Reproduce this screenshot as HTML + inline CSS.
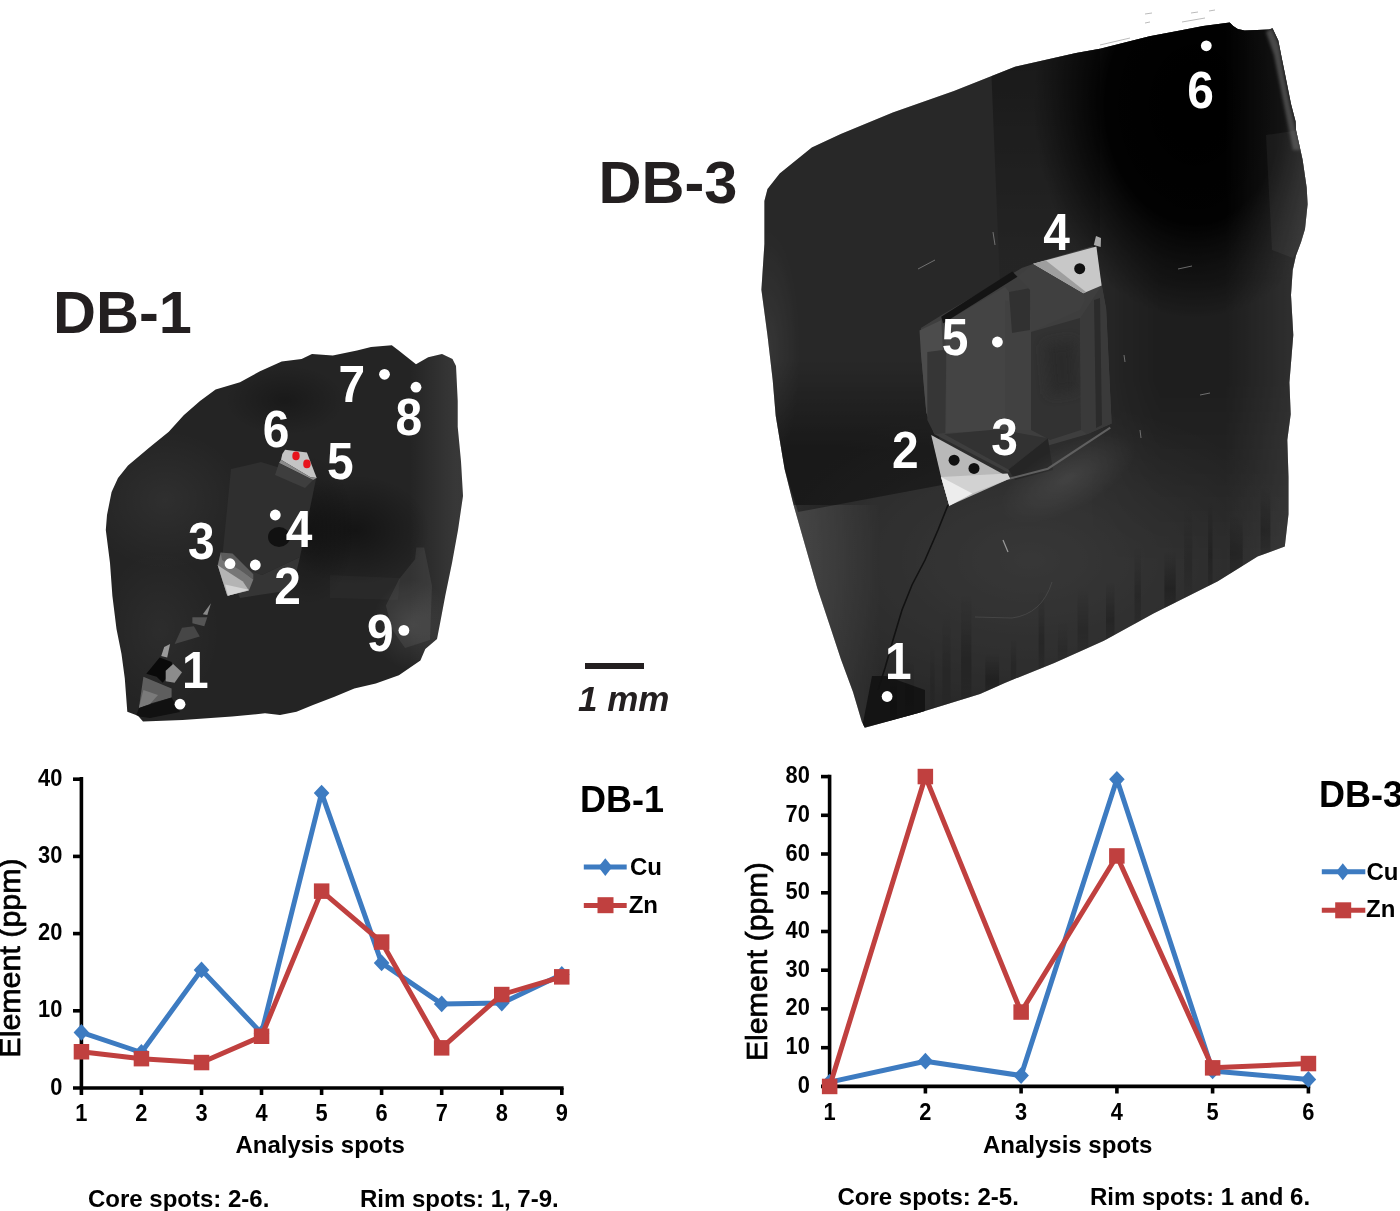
<!DOCTYPE html>
<html><head><meta charset="utf-8"><title>DB-1 and DB-3 crystals</title>
<style>html,body{margin:0;padding:0;background:#fff;width:1400px;height:1211px;overflow:hidden}svg{display:block}</style>
</head><body>
<svg width="1400" height="1211" viewBox="0 0 1400 1211">
<defs>
<filter id="b6" x="-50%" y="-50%" width="200%" height="200%"><feGaussianBlur stdDeviation="6"/></filter>
<filter id="b12" x="-50%" y="-50%" width="200%" height="200%"><feGaussianBlur stdDeviation="12"/></filter>
<filter id="b25" x="-50%" y="-50%" width="200%" height="200%"><feGaussianBlur stdDeviation="25"/></filter>
<filter id="b2" x="-50%" y="-50%" width="200%" height="200%"><feGaussianBlur stdDeviation="1.5"/></filter>
<clipPath id="c1"><polygon points="127.3,711.7 124.8,678.6 121.5,654.0 116.5,629.0 112.4,596.0 110.0,563.0 105.8,530.0 107.0,515.0 109.0,505.0 111.6,492.0 118.0,478.0 128.0,465.5 150.0,447.0 168.8,431.8 183.7,415.3 200.0,401.0 215.6,389.5 240.0,382.3 260.0,371.2 281.7,361.5 301.6,359.0 312.0,353.9 332.8,355.6 357.0,350.4 371.0,347.0 391.8,345.2 398.7,350.4 416.0,364.3 428.2,357.3 442.0,353.9 452.5,359.0 456.0,366.0 457.7,400.7 457.7,426.7 461.0,461.4 463.0,496.0 458.0,530.0 452.0,563.0 445.2,596.0 440.2,622.5 437.0,639.0 425.3,648.9 420.4,660.5 398.9,675.3 375.8,683.6 354.3,688.5 334.5,696.8 313.0,705.0 296.5,711.7 280.0,715.0 265.0,713.3 232.0,716.6 182.6,720.0 143.0,721.6 138.0,715.8"/></clipPath>
<clipPath id="c3"><polygon points="767.5,188.9 779.7,173.6 811.8,147.6 840.8,133.9 892.8,112.5 953.9,91.1 1015.0,66.7 1076.0,53.0 1100.0,48.7 1149.5,36.3 1180.0,30.6 1203.1,26.0 1229.7,22.5 1233.2,26.0 1237.8,28.9 1244.7,30.6 1269.0,29.5 1272.5,28.3 1278.3,40.5 1281.7,57.8 1285.2,75.1 1288.7,92.5 1291.0,104.0 1295.6,121.4 1296.0,130.0 1302.6,159.7 1306.7,187.8 1307.6,204.3 1305.0,229.0 1301.0,242.2 1296.0,255.4 1292.7,270.3 1291.0,295.0 1293.3,335.0 1289.4,382.6 1290.7,414.3 1287.3,440.0 1288.5,477.2 1288.5,514.3 1284.8,546.6 1257.6,556.5 1217.9,581.3 1153.5,613.5 1103.9,640.7 1054.3,663.0 1004.8,682.9 980.0,694.0 918.3,712.9 864.8,727.8 861.8,721.8 853.0,692.1 841.0,659.4 829.2,623.7 817.3,588.1 805.4,546.5 793.5,504.8 784.6,469.2 775.7,415.7 772.7,380.0 767.5,335.5 761.4,289.7 764.4,243.9 764.4,201.0"/></clipPath>
</defs>
<rect width="1400" height="1211" fill="#fff"/>
<polygon points="127.3,711.7 124.8,678.6 121.5,654.0 116.5,629.0 112.4,596.0 110.0,563.0 105.8,530.0 107.0,515.0 109.0,505.0 111.6,492.0 118.0,478.0 128.0,465.5 150.0,447.0 168.8,431.8 183.7,415.3 200.0,401.0 215.6,389.5 240.0,382.3 260.0,371.2 281.7,361.5 301.6,359.0 312.0,353.9 332.8,355.6 357.0,350.4 371.0,347.0 391.8,345.2 398.7,350.4 416.0,364.3 428.2,357.3 442.0,353.9 452.5,359.0 456.0,366.0 457.7,400.7 457.7,426.7 461.0,461.4 463.0,496.0 458.0,530.0 452.0,563.0 445.2,596.0 440.2,622.5 437.0,639.0 425.3,648.9 420.4,660.5 398.9,675.3 375.8,683.6 354.3,688.5 334.5,696.8 313.0,705.0 296.5,711.7 280.0,715.0 265.0,713.3 232.0,716.6 182.6,720.0 143.0,721.6 138.0,715.8" fill="#242424"/>
<g clip-path="url(#c1)">
<defs>
<radialGradient id="rw" cx="0.5" cy="0.5" r="0.5"><stop offset="0" stop-color="#fff" stop-opacity="1"/><stop offset="1" stop-color="#fff" stop-opacity="0"/></radialGradient>
<radialGradient id="rk" cx="0.5" cy="0.5" r="0.5"><stop offset="0" stop-color="#000" stop-opacity="1"/><stop offset="1" stop-color="#000" stop-opacity="0"/></radialGradient>
<linearGradient id="d1rb" gradientUnits="userSpaceOnUse" x1="410" y1="0" x2="455" y2="0"><stop offset="0" stop-color="#fff" stop-opacity="0"/><stop offset="1" stop-color="#fff" stop-opacity="0.09"/></linearGradient>
</defs>
<polygon points="410,350 470,350 470,660 410,660" fill="url(#d1rb)"/>
<ellipse cx="412" cy="625" rx="40" ry="45" fill="url(#rw)" opacity="0.10"/>
<polygon points="416.3,547.4 424.2,547.4 432,585.7 430,640 405,648 392.5,630 385.8,605.4 399,579.2 415,559.3" fill="#fff" opacity="0.07"/>
<polygon points="330,575 400,578 398,600 330,598" fill="#fff" opacity="0.025"/>
<ellipse cx="355" cy="530" rx="75" ry="55" fill="url(#rk)" opacity="0.45"/>
<ellipse cx="165" cy="500" rx="80" ry="70" fill="url(#rw)" opacity="0.05"/>
<ellipse cx="160" cy="630" rx="60" ry="80" fill="url(#rw)" opacity="0.04"/>
<ellipse cx="310" cy="530" rx="45" ry="75" fill="url(#rk)" opacity="0.35"/>
<ellipse cx="285" cy="400" rx="60" ry="35" fill="url(#rk)" opacity="0.3"/>
<polygon points="231,469 261,462 316,479 300,557 262,575 222,560" fill="#2f2f2f"/>
<polygon points="222,560 262,575 300,557 292,590 240,598" fill="#353535"/>
<ellipse cx="279" cy="537" rx="11" ry="10" fill="#111"/>
<polygon points="281,459.7 282.3,454 285.1,449.8 306.9,452.6 316.7,477.9 310.4,477.2" fill="#c4c4c4"/>
<polygon points="281,459.7 310.4,477.2 316.7,477.9 313,480 279,463" fill="#8a8a8a"/>
<polygon points="279,463 313,480 305,488 275,475" fill="#3e3e3e"/>
<polygon points="217.7,565.3 220.7,552.6 253.3,579.4 248.9,590.5 227.3,595.7" fill="#767676"/>
<polygon points="220.7,552.6 232.5,553.4 253.3,574.2 253.3,579.4 240,570 222,560" fill="#5c5c5c"/>
<polygon points="217.7,565.3 242.9,581.6 248.9,590.5 227.3,595.7" fill="#b4b4b4"/>
<polygon points="225.1,584.6 248.9,589.8 228.1,595.7" fill="#d4d4d4"/>
<polygon points="211,603.2 202.8,614.3 207.3,615" fill="#8a8a8a"/>
<polygon points="192.4,617.3 207.3,617.3 204.3,626.2 192.4,623.2" fill="#555"/>
<polygon points="182,627.7 193.9,626.2 199.8,636.6 174.6,644" fill="#464646"/>
<polygon points="164.2,647 170.1,644 167.2,657.4 161.2,655.9" fill="#9a9a9a"/>
<polygon points="146.3,673.7 159.7,657.4 171.6,661.9 173.1,669.3 162.7,682.7 156.7,676.7" fill="#0a0a0a"/>
<polygon points="165.7,670.8 173.1,664.1 182,672.3 174.6,682.7 165.7,681.2" fill="#8c8c8c"/>
<polygon points="138.9,707.9 143.4,676.7 171.6,688.6 171.6,697.5 144.9,705" fill="#5e5e5e"/>
<polygon points="138.9,707.9 143.4,690 158,695 150,704" fill="#7a7a7a"/>
<polygon points="136,716 139,708 171.6,697.5 180,712 150,718" fill="#111"/>
</g>
<ellipse cx="296" cy="455.9" rx="3.7" ry="4.4" fill="#e8141c"/>
<ellipse cx="306.9" cy="463.9" rx="3.7" ry="4.4" fill="#e8141c"/>
<circle cx="180" cy="704.2" r="5.4" fill="#fff"/>
<circle cx="230" cy="563.7" r="5.4" fill="#fff"/>
<circle cx="255.3" cy="565" r="5.4" fill="#fff"/>
<circle cx="275.3" cy="515" r="5.4" fill="#fff"/>
<circle cx="384.5" cy="374.3" r="5.4" fill="#fff"/>
<circle cx="416" cy="387.2" r="5.4" fill="#fff"/>
<circle cx="403.9" cy="630.4" r="5.4" fill="#fff"/>
<g font-family="Liberation Sans, Arial, sans-serif" font-weight="bold">
<text transform="translate(195.3 687.7) scale(0.93 1)" font-size="51.5" text-anchor="middle" fill="#fff">1</text>
<text transform="translate(287.6 603.5) scale(0.93 1)" font-size="51.5" text-anchor="middle" fill="#fff">2</text>
<text transform="translate(201.2 558.6) scale(0.93 1)" font-size="51.5" text-anchor="middle" fill="#fff">3</text>
<text transform="translate(299.1 547.4) scale(0.93 1)" font-size="51.5" text-anchor="middle" fill="#fff">4</text>
<text transform="translate(340.2 478.7) scale(0.93 1)" font-size="51.5" text-anchor="middle" fill="#fff">5</text>
<text transform="translate(276.0 446.6) scale(0.93 1)" font-size="51.5" text-anchor="middle" fill="#fff">6</text>
<text transform="translate(351.9 401.6) scale(0.93 1)" font-size="51.5" text-anchor="middle" fill="#fff">7</text>
<text transform="translate(408.7 434.5) scale(0.93 1)" font-size="51.5" text-anchor="middle" fill="#fff">8</text>
<text transform="translate(380.4 650.6) scale(0.93 1)" font-size="51.5" text-anchor="middle" fill="#fff">9</text>
</g>
<polygon points="767.5,188.9 779.7,173.6 811.8,147.6 840.8,133.9 892.8,112.5 953.9,91.1 1015.0,66.7 1076.0,53.0 1100.0,48.7 1149.5,36.3 1180.0,30.6 1203.1,26.0 1229.7,22.5 1233.2,26.0 1237.8,28.9 1244.7,30.6 1269.0,29.5 1272.5,28.3 1278.3,40.5 1281.7,57.8 1285.2,75.1 1288.7,92.5 1291.0,104.0 1295.6,121.4 1296.0,130.0 1302.6,159.7 1306.7,187.8 1307.6,204.3 1305.0,229.0 1301.0,242.2 1296.0,255.4 1292.7,270.3 1291.0,295.0 1293.3,335.0 1289.4,382.6 1290.7,414.3 1287.3,440.0 1288.5,477.2 1288.5,514.3 1284.8,546.6 1257.6,556.5 1217.9,581.3 1153.5,613.5 1103.9,640.7 1054.3,663.0 1004.8,682.9 980.0,694.0 918.3,712.9 864.8,727.8 861.8,721.8 853.0,692.1 841.0,659.4 829.2,623.7 817.3,588.1 805.4,546.5 793.5,504.8 784.6,469.2 775.7,415.7 772.7,380.0 767.5,335.5 761.4,289.7 764.4,243.9 764.4,201.0" fill="#3a3a3a"/>
<g clip-path="url(#c3)">
<defs>
<radialGradient id="d3tr" gradientUnits="userSpaceOnUse" cx="1195" cy="105" r="190" gradientTransform="translate(1195 105) scale(0.85 1.12) translate(-1195 -105)">
<stop offset="0" stop-color="#000" stop-opacity="1"/><stop offset="0.55" stop-color="#000" stop-opacity="0.95"/><stop offset="1" stop-color="#000" stop-opacity="0"/></radialGradient>
<linearGradient id="d3rm" gradientUnits="userSpaceOnUse" x1="1090" y1="0" x2="1160" y2="0">
<stop offset="0" stop-color="#000" stop-opacity="0"/><stop offset="1" stop-color="#000" stop-opacity="0.25"/></linearGradient>
<linearGradient id="d3rmv" gradientUnits="userSpaceOnUse" x1="0" y1="200" x2="0" y2="600">
<stop offset="0" stop-color="#fff" stop-opacity="0"/><stop offset="0.2" stop-color="#fff" stop-opacity="1"/><stop offset="0.45" stop-color="#fff" stop-opacity="1"/><stop offset="0.9" stop-color="#fff" stop-opacity="0"/></linearGradient>
<mask id="m3rm"><rect x="1000" y="200" width="320" height="400" fill="url(#d3rmv)"/></mask>
<radialGradient id="d3low" gradientUnits="userSpaceOnUse" cx="1030" cy="560" r="230" gradientTransform="translate(1030 560) scale(1.2 0.7) translate(-1030 -560)">
<stop offset="0" stop-color="#fff" stop-opacity="0.11"/><stop offset="0.6" stop-color="#fff" stop-opacity="0.05"/><stop offset="1" stop-color="#fff" stop-opacity="0"/></radialGradient>
<linearGradient id="d3ll" gradientUnits="userSpaceOnUse" x1="790" y1="0" x2="880" y2="0">
<stop offset="0" stop-color="#fff" stop-opacity="0.22"/><stop offset="1" stop-color="#fff" stop-opacity="0"/></linearGradient>
<linearGradient id="d3tm" gradientUnits="userSpaceOnUse" x1="0" y1="60" x2="0" y2="260">
<stop offset="0" stop-color="#000" stop-opacity="0.35"/><stop offset="1" stop-color="#000" stop-opacity="0.1"/></linearGradient>
</defs>
<polygon points="990,40 1100,20 1100,246 1035,262 1017.5,276.8 1000,287" fill="url(#d3tm)"/>
<rect x="1090" y="200" width="230" height="400" fill="url(#d3rm)" mask="url(#m3rm)"/>
<rect x="1000" y="0" width="320" height="380" fill="url(#d3tr)"/>
<rect x="760" y="380" width="560" height="360" fill="url(#d3low)"/>
<polygon points="770,505 880,505 900,740 800,740" fill="url(#d3ll)"/>
<defs><linearGradient id="dbnd" gradientUnits="userSpaceOnUse" x1="0" y1="360" x2="0" y2="450"><stop offset="0" stop-color="#000" stop-opacity="0"/><stop offset="1" stop-color="#000" stop-opacity="0.38"/></linearGradient>
<linearGradient id="lft" gradientUnits="userSpaceOnUse" x1="762" y1="0" x2="800" y2="0"><stop offset="0" stop-color="#fff" stop-opacity="0.12"/><stop offset="1" stop-color="#fff" stop-opacity="0"/></linearGradient></defs>
<polygon points="760,360 935,360 942,485 798,512 785,470" fill="url(#dbnd)"/>
<ellipse cx="768" cy="350" rx="32" ry="120" fill="url(#rw)" opacity="0.10"/>
<polygon points="862,728 872,676 886,676 925,690 925,712" fill="#1e1e1e"/>
<defs><linearGradient id="d3re" gradientUnits="userSpaceOnUse" x1="1225" y1="0" x2="1300" y2="0"><stop offset="0" stop-color="#fff" stop-opacity="0"/><stop offset="1" stop-color="#fff" stop-opacity="0.13"/></linearGradient></defs>
<rect x="1220" y="20" width="100" height="560" fill="url(#d3re)"/>
<polygon points="1272,28 1279,45 1284,75 1290,105 1297,135 1301,150 1293,150 1287,120 1280,85 1274,55 1266,32" fill="#686868" filter="url(#b2)"/>
<polygon points="1266,135 1300,130 1309,200 1305,235 1293,258 1272,250" fill="#fff" opacity="0.07"/>
<defs><linearGradient id="stk" x1="0" y1="0" x2="0" y2="1"><stop offset="0" stop-color="#000" stop-opacity="0"/><stop offset="0.6" stop-color="#000" stop-opacity="0.5"/><stop offset="1" stop-color="#000" stop-opacity="0.2"/></linearGradient></defs>
<rect x="890.0" y="674.5" width="7.2" height="51.3" fill="url(#stk)" opacity="0.43"/>
<rect x="904.7" y="654.3" width="9.4" height="67.4" fill="url(#stk)" opacity="0.22"/>
<rect x="930.2" y="641.7" width="4.4" height="72.5" fill="url(#stk)" opacity="0.22"/>
<rect x="942.4" y="608.5" width="8.2" height="102.0" fill="url(#stk)" opacity="0.24"/>
<rect x="961.1" y="593.7" width="10.3" height="111.1" fill="url(#stk)" opacity="0.40"/>
<rect x="985.3" y="653.1" width="13.8" height="43.5" fill="url(#stk)" opacity="0.50"/>
<rect x="1010.9" y="636.6" width="5.4" height="48.8" fill="url(#stk)" opacity="0.31"/>
<rect x="1038.6" y="590.7" width="5.8" height="83.6" fill="url(#stk)" opacity="0.42"/>
<rect x="1057.9" y="621.7" width="9.5" height="44.7" fill="url(#stk)" opacity="0.22"/>
<rect x="1077.5" y="585.5" width="10.8" height="72.1" fill="url(#stk)" opacity="0.31"/>
<rect x="1106.0" y="582.1" width="8.5" height="62.5" fill="url(#stk)" opacity="0.48"/>
<rect x="1134.5" y="545.8" width="6.4" height="83.1" fill="url(#stk)" opacity="0.38"/>
<rect x="1164.4" y="551.4" width="11.3" height="61.6" fill="url(#stk)" opacity="0.54"/>
<rect x="1184.1" y="506.4" width="8.2" height="96.8" fill="url(#stk)" opacity="0.25"/>
<rect x="1208.1" y="501.1" width="4.4" height="90.1" fill="url(#stk)" opacity="0.47"/>
<rect x="1229.9" y="515.3" width="12.8" height="63.5" fill="url(#stk)" opacity="0.44"/>
<rect x="1260.6" y="486.2" width="9.8" height="74.2" fill="url(#stk)" opacity="0.49"/>
<polygon points="864,728 980,694 1060,662 1060,672 985,704 870,738" fill="#000" opacity="0.18"/>
<g stroke="#cfcfcf" stroke-width="1" opacity="0.7" fill="none"><path d="M918,269 L935,260"/><path d="M1178,269 L1192,266"/><path d="M1200,395 L1210,393"/><path d="M993,232 L995,245"/><path d="M1086,398 L1095,395"/><path d="M1124,355 L1125,362"/><path d="M1140,430 L1141,438"/></g>
<polyline points="948,505 938,530 925,560 912,585 902,610 893,640 885,668 878,690" fill="none" stroke="#1a1a1a" stroke-width="1.6"/>
<path d="M1052,582 Q1042,614 1012,618 L975,617" fill="none" stroke="#777" stroke-width="1" opacity="0.6"/>
<path d="M1003,540 L1008,552" fill="none" stroke="#ddd" stroke-width="1.2"/>
<polygon points="920.9,328.0 942.7,314.4 1021.7,268.1 1040.8,261.3 1092.5,246.3 1100.7,279.0 1106.2,309.0 1111.6,423.4 1087.1,434.3 1049.0,445.2 1008.0,472.5 934.5,434.3 926.3,412.5 920.9,352.6" fill="#5a5a5a"/>
<polygon points="919.5,330.6 941.2,320.2 943,351.4 934,356 934.5,434.3 926.3,412.5 920.9,352.6" fill="#6e6e6e"/>
<polygon points="927.3,352 946.4,349.6 945,433 934.5,434.3 927.3,420" fill="#4e4e4e"/>
<polygon points="943,323.6 1005,287 1009,292 1010,332 1005,430 946,433 946.4,349.6" fill="#626262"/>
<polygon points="1005,300 1031,310 1031,430 1005,430" fill="#5e5e5e"/>
<polygon points="1009,292 1030,288 1030,330 1012,333" fill="#474747"/>
<polygon points="1017.5,276.8 1033.1,263.8 1083.4,293.3 1085,300 1080,310 1031,332 1030,290" fill="#5c5c5c"/>
<polygon points="1031,332 1080,318 1081,430 1050,440 1031,430" fill="#484848"/>
<polygon points="1045,345 1075,340 1078,390 1050,395" fill="#3c3c3c" filter="url(#b6)"/>
<polygon points="1080,318 1092,300 1101.6,285.5 1106,309 1111.6,423.4 1087,434.3 1081,430" fill="#545454"/>
<polygon points="1094,300 1100,298 1102,425 1096,428" fill="#3e3e3e"/>
<polygon points="941.2,316.7 943,323.6 1017.5,276.8 1012.3,271.6" fill="#1e1e1e"/>
<polygon points="944.4,434.2 998.6,429.3 1047.9,438.3 1008.4,469.5" fill="#484848"/>
<polygon points="1008.4,469.5 1047.9,438.3 1053,470 1015,480" fill="#363636"/>
<defs><linearGradient id="glw" gradientUnits="userSpaceOnUse" x1="1080" y1="445" x2="1100" y2="490"><stop offset="0" stop-color="#fff" stop-opacity="0.16"/><stop offset="1" stop-color="#fff" stop-opacity="0"/></linearGradient></defs>
<ellipse cx="1068" cy="478" rx="75" ry="32" transform="rotate(-28 1068 478)" fill="url(#rw)" opacity="0.14"/>
<polyline points="1008,479 1047.9,468.7 1110.3,427.6" fill="none" stroke="#8a8a8a" stroke-width="2"/>
<rect x="740" y="0" width="600" height="760" fill="#000" opacity="0.3"/>
<polygon points="1033.1,263.8 1096.4,246.5 1101.6,285.5 1083.4,293.3" fill="#c8c8c8"/>
<polygon points="1033.1,263.8 1046,260.5 1086,292 1083.4,293.3" fill="#9e9e9e"/>
<polygon points="1093.8,245 1096,236 1101,238 1100.7,247" fill="#aaa"/>
<polygon points="931.2,435 1008.4,476.9 1010.1,478.6 949.3,505.7 941.1,476.9" fill="#b9b9b9"/>
<polygon points="941.1,476.9 1007.6,473.6 1010.1,478.6 972.3,493.4 949.3,505.7" fill="#d2d2d2"/>
<polygon points="941.1,476.9 972.3,493.4 949.3,505.7" fill="#ededed"/>
</g>
<g stroke="#aaa" stroke-width="1" fill="none" opacity="0.8"><path d="M1145,14 L1152,13"/><path d="M1145,23 L1150,22"/><path d="M1182,22 L1205,18"/><path d="M1191,13 L1198,12"/><path d="M1209,11 L1215,10"/><path d="M1100,45 L1130,38"/></g>
<circle cx="954.1" cy="460.2" r="5.5" fill="#111"/>
<circle cx="974" cy="468.4" r="5.5" fill="#111"/>
<circle cx="1079.7" cy="268.7" r="5.5" fill="#111"/>
<circle cx="887.1" cy="696.5" r="5.4" fill="#fff"/>
<circle cx="997.4" cy="342" r="5.4" fill="#fff"/>
<circle cx="1206.3" cy="45.8" r="5.4" fill="#fff"/>
<g font-family="Liberation Sans, Arial, sans-serif" font-weight="bold">
<text transform="translate(898.2 678.7) scale(0.93 1)" font-size="51.5" text-anchor="middle" fill="#fff">1</text>
<text transform="translate(905.2 468.4) scale(0.93 1)" font-size="51.5" text-anchor="middle" fill="#fff">2</text>
<text transform="translate(1004.6 454.8) scale(0.93 1)" font-size="51.5" text-anchor="middle" fill="#fff">3</text>
<text transform="translate(1056.5 249.5) scale(0.93 1)" font-size="51.5" text-anchor="middle" fill="#fff">4</text>
<text transform="translate(955.0 355.3) scale(0.93 1)" font-size="51.5" text-anchor="middle" fill="#fff">5</text>
<text transform="translate(1200.6 108.1) scale(0.93 1)" font-size="51.5" text-anchor="middle" fill="#fff">6</text>
</g>
<g font-family="Liberation Sans, Arial, sans-serif" font-weight="bold" fill="#231f20">
<text x="53" y="333" font-size="59.5">DB-1</text>
<text x="598.5" y="202.6" font-size="59.5">DB-3</text>
<text x="578" y="710.5" font-size="35" font-style="italic">1 mm</text>
</g>
<rect x="585" y="663" width="59" height="6" fill="#231f20"/>
<g stroke="#000" stroke-width="3.6" fill="none">
<line x1="81.4" y1="777" x2="81.4" y2="1095"/>
<line x1="73" y1="1088" x2="563.5999999999999" y2="1088"/>
<line x1="73" y1="1010.8" x2="81.4" y2="1010.8"/>
<line x1="73" y1="933.6" x2="81.4" y2="933.6"/>
<line x1="73" y1="856.4" x2="81.4" y2="856.4"/>
<line x1="73" y1="779.2" x2="81.4" y2="779.2"/>
<line x1="141.4" y1="1088" x2="141.4" y2="1095"/>
<line x1="201.5" y1="1088" x2="201.5" y2="1095"/>
<line x1="261.5" y1="1088" x2="261.5" y2="1095"/>
<line x1="321.6" y1="1088" x2="321.6" y2="1095"/>
<line x1="381.6" y1="1088" x2="381.6" y2="1095"/>
<line x1="441.7" y1="1088" x2="441.7" y2="1095"/>
<line x1="501.8" y1="1088" x2="501.8" y2="1095"/>
<line x1="561.8" y1="1088" x2="561.8" y2="1095"/>
</g>
<polyline points="81.4,1032.4 141.4,1052.5 201.5,969.9 261.5,1033.2 321.6,793.1 381.6,962.9 441.7,1003.9 501.8,1003.1 561.8,974.5" fill="none" stroke="#3d7bc1" stroke-width="5" stroke-linejoin="round"/>
<polygon points="73.6,1032.4 81.4,1024.0 89.2,1032.4 81.4,1040.8" fill="#3d7bc1"/>
<polygon points="133.6,1052.5 141.4,1044.1 149.2,1052.5 141.4,1060.9" fill="#3d7bc1"/>
<polygon points="193.7,969.9 201.5,961.5 209.3,969.9 201.5,978.3" fill="#3d7bc1"/>
<polygon points="253.7,1033.2 261.5,1024.8 269.3,1033.2 261.5,1041.6" fill="#3d7bc1"/>
<polygon points="313.8,793.1 321.6,784.7 329.4,793.1 321.6,801.5" fill="#3d7bc1"/>
<polygon points="373.8,962.9 381.6,954.5 389.4,962.9 381.6,971.3" fill="#3d7bc1"/>
<polygon points="433.9,1003.9 441.7,995.5 449.5,1003.9 441.7,1012.3" fill="#3d7bc1"/>
<polygon points="493.9,1003.1 501.8,994.7 509.6,1003.1 501.8,1011.5" fill="#3d7bc1"/>
<polygon points="554.0,974.5 561.8,966.1 569.6,974.5 561.8,982.9" fill="#3d7bc1"/>
<polyline points="81.4,1051.7 141.4,1058.7 201.5,1062.5 261.5,1036.3 321.6,891.1 381.6,942.1 441.7,1047.9 501.8,994.6 561.8,976.8" fill="none" stroke="#c0403f" stroke-width="5" stroke-linejoin="round"/>
<rect x="73.7" y="1044.0" width="15.5" height="15.5" fill="#c0403f"/>
<rect x="133.7" y="1050.9" width="15.5" height="15.5" fill="#c0403f"/>
<rect x="193.8" y="1054.8" width="15.5" height="15.5" fill="#c0403f"/>
<rect x="253.8" y="1028.5" width="15.5" height="15.5" fill="#c0403f"/>
<rect x="313.9" y="883.4" width="15.5" height="15.5" fill="#c0403f"/>
<rect x="373.9" y="934.3" width="15.5" height="15.5" fill="#c0403f"/>
<rect x="433.9" y="1040.1" width="15.5" height="15.5" fill="#c0403f"/>
<rect x="494.0" y="986.8" width="15.5" height="15.5" fill="#c0403f"/>
<rect x="554.0" y="969.1" width="15.5" height="15.5" fill="#c0403f"/>
<g font-family="Liberation Sans, Arial, sans-serif" font-weight="bold" fill="#000">
<text transform="translate(62.3 1094.5) scale(0.95 1)" font-size="23" text-anchor="end">0</text>
<text transform="translate(62.3 1017.3) scale(0.95 1)" font-size="23" text-anchor="end">10</text>
<text transform="translate(62.3 940.1) scale(0.95 1)" font-size="23" text-anchor="end">20</text>
<text transform="translate(62.3 862.9) scale(0.95 1)" font-size="23" text-anchor="end">30</text>
<text transform="translate(62.3 785.7) scale(0.95 1)" font-size="23" text-anchor="end">40</text>
<text transform="translate(81.4 1120.8) scale(0.95 1)" font-size="23" text-anchor="middle">1</text>
<text transform="translate(141.4 1120.8) scale(0.95 1)" font-size="23" text-anchor="middle">2</text>
<text transform="translate(201.5 1120.8) scale(0.95 1)" font-size="23" text-anchor="middle">3</text>
<text transform="translate(261.5 1120.8) scale(0.95 1)" font-size="23" text-anchor="middle">4</text>
<text transform="translate(321.6 1120.8) scale(0.95 1)" font-size="23" text-anchor="middle">5</text>
<text transform="translate(381.6 1120.8) scale(0.95 1)" font-size="23" text-anchor="middle">6</text>
<text transform="translate(441.7 1120.8) scale(0.95 1)" font-size="23" text-anchor="middle">7</text>
<text transform="translate(501.8 1120.8) scale(0.95 1)" font-size="23" text-anchor="middle">8</text>
<text transform="translate(561.8 1120.8) scale(0.95 1)" font-size="23" text-anchor="middle">9</text>
<text x="320.1" y="1152.5" font-size="24" text-anchor="middle">Analysis spots</text>
<text x="88" y="1207" font-size="24">Core spots: 2-6.</text>
<text x="360" y="1207" font-size="24">Rim spots: 1, 7-9.</text>
<text x="580" y="812.3" font-size="36">DB-1</text>
<text x="630" y="875" font-size="24">Cu</text>
<text x="628.7" y="912.6" font-size="24">Zn</text>
</g>
<line x1="583.8" y1="867.1" x2="626.7" y2="867.1" stroke="#3d7bc1" stroke-width="5"/>
<polygon points="598.3,867.1 605.3,858.2 612.3,867.1 605.3,876.0" fill="#3d7bc1"/>
<line x1="583.8" y1="905.4" x2="626.7" y2="905.4" stroke="#c0403f" stroke-width="5"/>
<rect x="597.5" y="897.2" width="16" height="16" fill="#c0403f"/>
<text x="20.3" y="958" transform="rotate(-90 20.3 958)" font-family="Liberation Sans, Arial, sans-serif" font-size="30.4" text-anchor="middle" fill="#000" stroke="#000" stroke-width="0.7">Element (ppm)</text>
<g stroke="#000" stroke-width="3.6" fill="none">
<line x1="829.6" y1="774.8" x2="829.6" y2="1093.5"/>
<line x1="821" y1="1086.4" x2="1310.2" y2="1086.4"/>
<line x1="821" y1="1047.7" x2="829.6" y2="1047.7"/>
<line x1="821" y1="1008.9" x2="829.6" y2="1008.9"/>
<line x1="821" y1="970.2" x2="829.6" y2="970.2"/>
<line x1="821" y1="931.5" x2="829.6" y2="931.5"/>
<line x1="821" y1="892.8" x2="829.6" y2="892.8"/>
<line x1="821" y1="854.0" x2="829.6" y2="854.0"/>
<line x1="821" y1="815.3" x2="829.6" y2="815.3"/>
<line x1="821" y1="776.6" x2="829.6" y2="776.6"/>
<line x1="925.4" y1="1086.4" x2="925.4" y2="1093.5"/>
<line x1="1021.1" y1="1086.4" x2="1021.1" y2="1093.5"/>
<line x1="1116.9" y1="1086.4" x2="1116.9" y2="1093.5"/>
<line x1="1212.6" y1="1086.4" x2="1212.6" y2="1093.5"/>
<line x1="1308.4" y1="1086.4" x2="1308.4" y2="1093.5"/>
</g>
<polyline points="829.6,1082.1 925.4,1061.2 1021.1,1075.6 1116.9,779.3 1212.6,1070.9 1308.4,1079.4" fill="none" stroke="#3d7bc1" stroke-width="5" stroke-linejoin="round"/>
<polygon points="821.8,1082.1 829.6,1073.7 837.4,1082.1 829.6,1090.5" fill="#3d7bc1"/>
<polygon points="917.6,1061.2 925.4,1052.8 933.2,1061.2 925.4,1069.6" fill="#3d7bc1"/>
<polygon points="1013.3,1075.6 1021.1,1067.2 1028.9,1075.6 1021.1,1084.0" fill="#3d7bc1"/>
<polygon points="1109.1,779.3 1116.9,770.9 1124.7,779.3 1116.9,787.7" fill="#3d7bc1"/>
<polygon points="1204.8,1070.9 1212.6,1062.5 1220.4,1070.9 1212.6,1079.3" fill="#3d7bc1"/>
<polygon points="1300.6,1079.4 1308.4,1071.0 1316.2,1079.4 1308.4,1087.8" fill="#3d7bc1"/>
<polyline points="829.6,1086.4 925.4,776.6 1021.1,1012.0 1116.9,856.0 1212.6,1067.8 1308.4,1063.5" fill="none" stroke="#c0403f" stroke-width="5" stroke-linejoin="round"/>
<rect x="821.9" y="1078.7" width="15.5" height="15.5" fill="#c0403f"/>
<rect x="917.6" y="768.8" width="15.5" height="15.5" fill="#c0403f"/>
<rect x="1013.4" y="1004.3" width="15.5" height="15.5" fill="#c0403f"/>
<rect x="1109.1" y="848.2" width="15.5" height="15.5" fill="#c0403f"/>
<rect x="1204.9" y="1060.1" width="15.5" height="15.5" fill="#c0403f"/>
<rect x="1300.7" y="1055.8" width="15.5" height="15.5" fill="#c0403f"/>
<g font-family="Liberation Sans, Arial, sans-serif" font-weight="bold" fill="#000">
<text transform="translate(809.8 1092.9) scale(0.95 1)" font-size="23" text-anchor="end">0</text>
<text transform="translate(809.8 1054.2) scale(0.95 1)" font-size="23" text-anchor="end">10</text>
<text transform="translate(809.8 1015.4) scale(0.95 1)" font-size="23" text-anchor="end">20</text>
<text transform="translate(809.8 976.7) scale(0.95 1)" font-size="23" text-anchor="end">30</text>
<text transform="translate(809.8 938.0) scale(0.95 1)" font-size="23" text-anchor="end">40</text>
<text transform="translate(809.8 899.3) scale(0.95 1)" font-size="23" text-anchor="end">50</text>
<text transform="translate(809.8 860.5) scale(0.95 1)" font-size="23" text-anchor="end">60</text>
<text transform="translate(809.8 821.8) scale(0.95 1)" font-size="23" text-anchor="end">70</text>
<text transform="translate(809.8 783.1) scale(0.95 1)" font-size="23" text-anchor="end">80</text>
<text transform="translate(829.6 1120.4) scale(0.95 1)" font-size="23" text-anchor="middle">1</text>
<text transform="translate(925.4 1120.4) scale(0.95 1)" font-size="23" text-anchor="middle">2</text>
<text transform="translate(1021.1 1120.4) scale(0.95 1)" font-size="23" text-anchor="middle">3</text>
<text transform="translate(1116.9 1120.4) scale(0.95 1)" font-size="23" text-anchor="middle">4</text>
<text transform="translate(1212.6 1120.4) scale(0.95 1)" font-size="23" text-anchor="middle">5</text>
<text transform="translate(1308.4 1120.4) scale(0.95 1)" font-size="23" text-anchor="middle">6</text>
<text x="1067.7" y="1152.5" font-size="24" text-anchor="middle">Analysis spots</text>
<text x="837.5" y="1204.5" font-size="24">Core spots: 2-5.</text>
<text x="1090" y="1204.5" font-size="24">Rim spots: 1 and 6.</text>
<text x="1319" y="807" font-size="36">DB-3</text>
<text x="1366.5" y="880" font-size="24">Cu</text>
<text x="1366" y="917.3" font-size="24">Zn</text>
</g>
<line x1="1321.8" y1="871.7" x2="1365.3" y2="871.7" stroke="#3d7bc1" stroke-width="5"/>
<polygon points="1336.1,871.7 1342.8,863.2 1349.5,871.7 1342.8,880.2" fill="#3d7bc1"/>
<line x1="1321.8" y1="910.3" x2="1365.3" y2="910.3" stroke="#c0403f" stroke-width="5"/>
<rect x="1335.2" y="902.3" width="16" height="16" fill="#c0403f"/>
<text x="767.4" y="961.7" transform="rotate(-90 767.4 961.7)" font-family="Liberation Sans, Arial, sans-serif" font-size="30.4" text-anchor="middle" fill="#000" stroke="#000" stroke-width="0.7">Element (ppm)</text>
</svg>
</body></html>
